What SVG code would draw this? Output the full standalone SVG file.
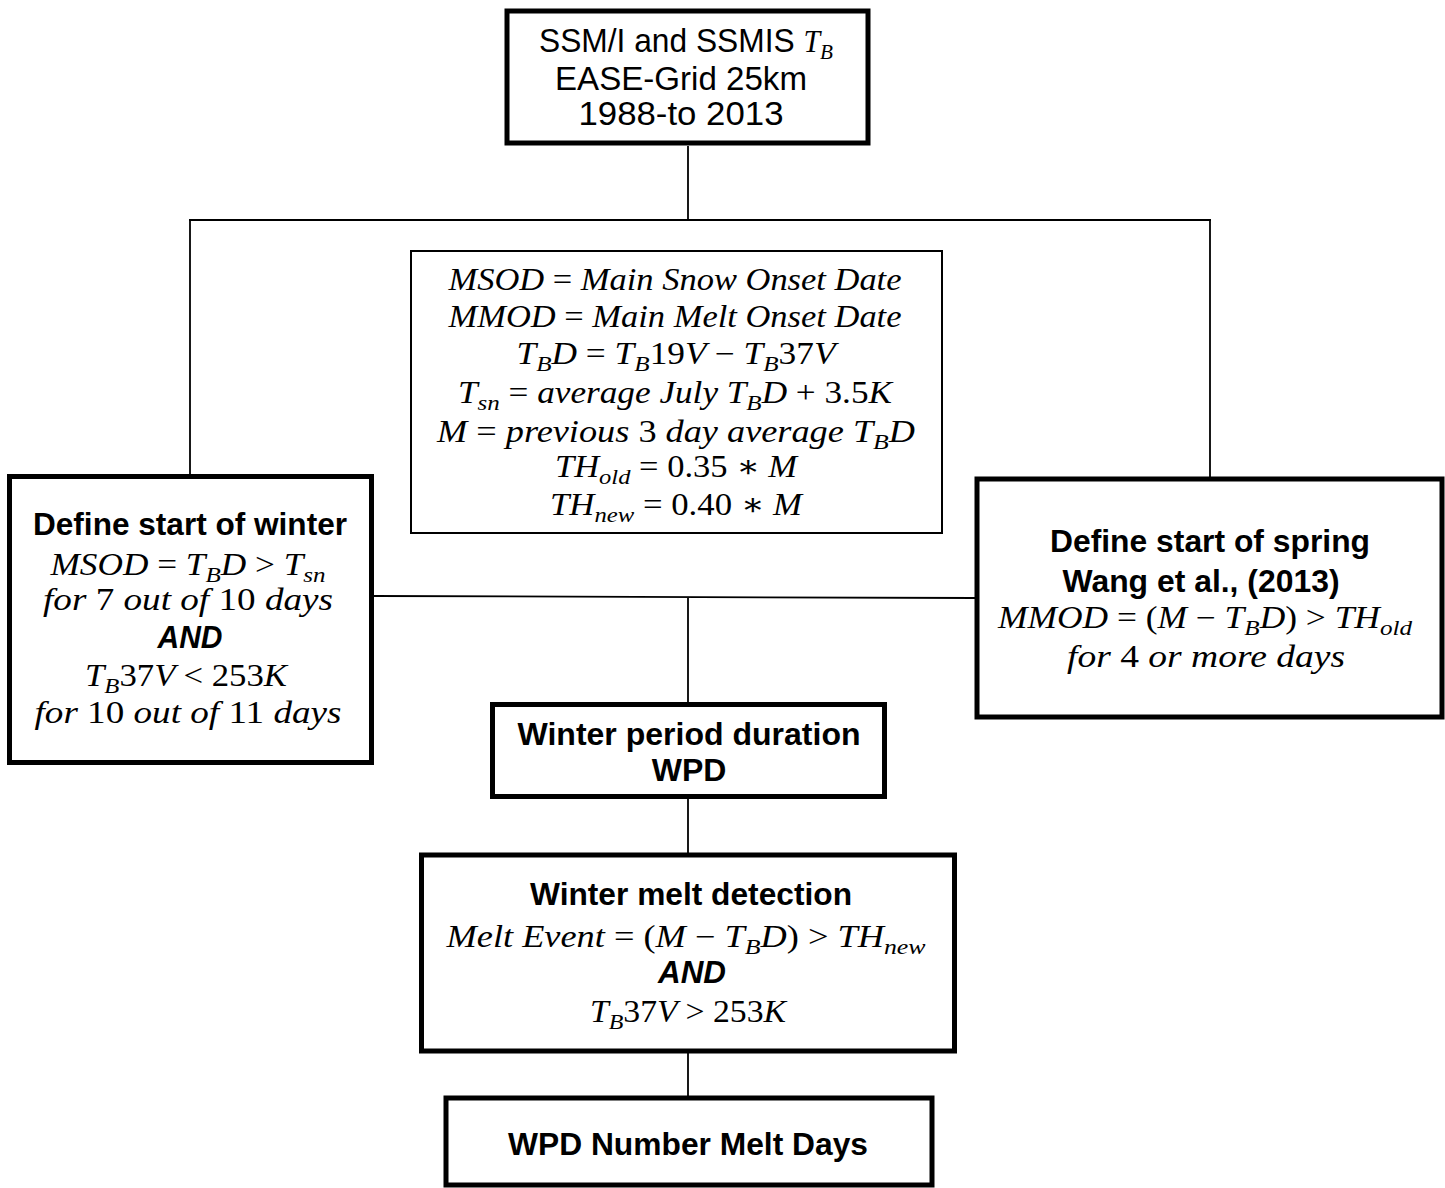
<svg xmlns="http://www.w3.org/2000/svg" width="1445" height="1188" viewBox="0 0 1445 1188">
<style>
.box{fill:#fff;stroke:#000;stroke-width:5}
.thin{fill:#fff;stroke:#000;stroke-width:2}
.c{fill:none;stroke:#000;stroke-width:1.8}
.m{font-family:"Liberation Serif","DejaVu Serif",serif;font-size:31px;font-style:italic;fill:#000}
.u{font-style:normal}
.s{font-size:22px}
.b{font-family:"Liberation Sans",Arial,sans-serif;font-weight:bold;font-size:32px;fill:#000}
.bi{font-family:"Liberation Sans",Arial,sans-serif;font-weight:bold;font-style:italic;font-size:32px;fill:#000}
.r{font-family:"Liberation Sans",Arial,sans-serif;font-size:33px;fill:#000}
text{text-anchor:middle}
</style>
<g id="connectors">
<path class="c" d="M688,146 V220 M189,220 H1211 M190,220 V476 M1210,220 V478 M374,596 L975,598 M688,597 V704 M688,798 V855 M688,1053 V1098"/>
</g>
<g id="node-source">
<rect class="box" x="507" y="11" width="361" height="132"/>
<text class="r" x="686" y="52" textLength="294" lengthAdjust="spacingAndGlyphs">SSM/I and SSMIS <tspan class="m" font-size="33px">T</tspan><tspan class="m s" dy="7">B</tspan></text>
<text class="r" x="681" y="90" textLength="252" lengthAdjust="spacingAndGlyphs">EASE-Grid 25km</text>
<text class="r" x="681" y="125" textLength="205" lengthAdjust="spacingAndGlyphs">1988-to 2013</text>
</g>
<g id="node-definitions">
<rect class="thin" x="411" y="251" width="531" height="282"/>
<text class="m" x="675" y="290" textLength="453" lengthAdjust="spacingAndGlyphs">MSOD <tspan class="u">=</tspan> Main Snow Onset Date</text>
<text class="m" x="675" y="327" textLength="453" lengthAdjust="spacingAndGlyphs">MMOD <tspan class="u">=</tspan> Main Melt Onset Date</text>
<text class="m" x="676" y="364" textLength="319" lengthAdjust="spacingAndGlyphs">T<tspan class="s" dy="7">B</tspan><tspan dy="-7">D </tspan><tspan class="u">= </tspan>T<tspan class="s" dy="7">B</tspan><tspan class="u" dy="-7">19</tspan>V <tspan class="u">− </tspan>T<tspan class="s" dy="7">B</tspan><tspan class="u" dy="-7">37</tspan>V</text>
<text class="m" x="675" y="403" textLength="434" lengthAdjust="spacingAndGlyphs">T<tspan class="s" dy="7">sn</tspan><tspan class="u" dy="-7"> = </tspan>average July T<tspan class="s" dy="7">B</tspan><tspan dy="-7">D </tspan><tspan class="u">+ 3.5</tspan>K</text>
<text class="m" x="676" y="442" textLength="478" lengthAdjust="spacingAndGlyphs">M <tspan class="u">=</tspan> previous <tspan class="u">3</tspan> day average  T<tspan class="s" dy="7">B</tspan><tspan dy="-7">D</tspan></text>
<text class="m" x="676" y="477" textLength="242" lengthAdjust="spacingAndGlyphs">TH<tspan class="s" dy="7">old</tspan><tspan class="u" dy="-7"> = 0.35 ∗ </tspan>M</text>
<text class="m" x="676" y="515" textLength="252" lengthAdjust="spacingAndGlyphs">TH<tspan class="s" dy="7">new</tspan><tspan class="u" dy="-7"> = 0.40 ∗ </tspan>M</text>
</g>
<g id="node-winter">
<rect class="box" x="9.5" y="476.5" width="362" height="286"/>
<text class="b" x="190" y="535" textLength="314" lengthAdjust="spacingAndGlyphs">Define start of winter</text>
<text class="m" x="188" y="575" textLength="275" lengthAdjust="spacingAndGlyphs">MSOD <tspan class="u">= </tspan>T<tspan class="s" dy="7">B</tspan><tspan dy="-7">D </tspan><tspan class="u">&gt; </tspan>T<tspan class="s" dy="7">sn</tspan></text>
<text class="m" x="188" y="610" textLength="290" lengthAdjust="spacingAndGlyphs">for <tspan class="u">7</tspan> out of <tspan class="u">10</tspan> days</text>
<text class="bi" x="190" y="648" textLength="65" lengthAdjust="spacingAndGlyphs">AND</text>
<text class="m" x="186" y="686" textLength="202" lengthAdjust="spacingAndGlyphs">T<tspan class="s" dy="7">B</tspan><tspan class="u" dy="-7">37</tspan>V <tspan class="u">&lt; 253</tspan>K</text>
<text class="m" x="188" y="723" textLength="307" lengthAdjust="spacingAndGlyphs">for <tspan class="u">10</tspan> out of <tspan class="u">11</tspan> days</text>
</g>
<g id="node-spring">
<rect class="box" x="977" y="479" width="465" height="238"/>
<text class="b" x="1210" y="552" textLength="320" lengthAdjust="spacingAndGlyphs">Define start of spring</text>
<text class="b" x="1201" y="592" textLength="277" lengthAdjust="spacingAndGlyphs">Wang et al., (2013)</text>
<text class="m" x="1205" y="628" textLength="414" lengthAdjust="spacingAndGlyphs">MMOD <tspan class="u">= (</tspan>M <tspan class="u">− </tspan>T<tspan class="s" dy="7">B</tspan><tspan dy="-7">D</tspan><tspan class="u">)  &gt; </tspan>TH<tspan class="s" dy="7">old</tspan></text>
<text class="m" x="1206" y="667" textLength="278" lengthAdjust="spacingAndGlyphs">for <tspan class="u">4</tspan> or more days</text>
</g>
<g id="node-wpd">
<rect class="box" x="492.5" y="704.5" width="392" height="92"/>
<text class="b" x="689" y="745" textLength="343" lengthAdjust="spacingAndGlyphs">Winter period duration</text>
<text class="b" x="689" y="781">WPD</text>
</g>
<g id="node-melt">
<rect class="box" x="421.5" y="855" width="533" height="196"/>
<text class="b" x="691" y="905" textLength="322" lengthAdjust="spacingAndGlyphs">Winter melt detection</text>
<text class="m" x="686" y="947" textLength="479" lengthAdjust="spacingAndGlyphs">Melt Event <tspan class="u">= (</tspan>M <tspan class="u">− </tspan>T<tspan class="s" dy="7">B</tspan><tspan dy="-7">D</tspan><tspan class="u">) &gt; </tspan>TH<tspan class="s" dy="7">new</tspan></text>
<text class="bi" x="692" y="983" textLength="68" lengthAdjust="spacingAndGlyphs">AND</text>
<text class="m" x="688" y="1022" textLength="196" lengthAdjust="spacingAndGlyphs">T<tspan class="s" dy="7">B</tspan><tspan class="u" dy="-7">37</tspan>V <tspan class="u">&gt; 253</tspan>K</text>
</g>
<g id="node-result">
<rect class="box" x="446" y="1098" width="486" height="87"/>
<text class="b" x="688" y="1155" textLength="360" lengthAdjust="spacingAndGlyphs">WPD Number Melt Days</text>
</g>
</svg>
